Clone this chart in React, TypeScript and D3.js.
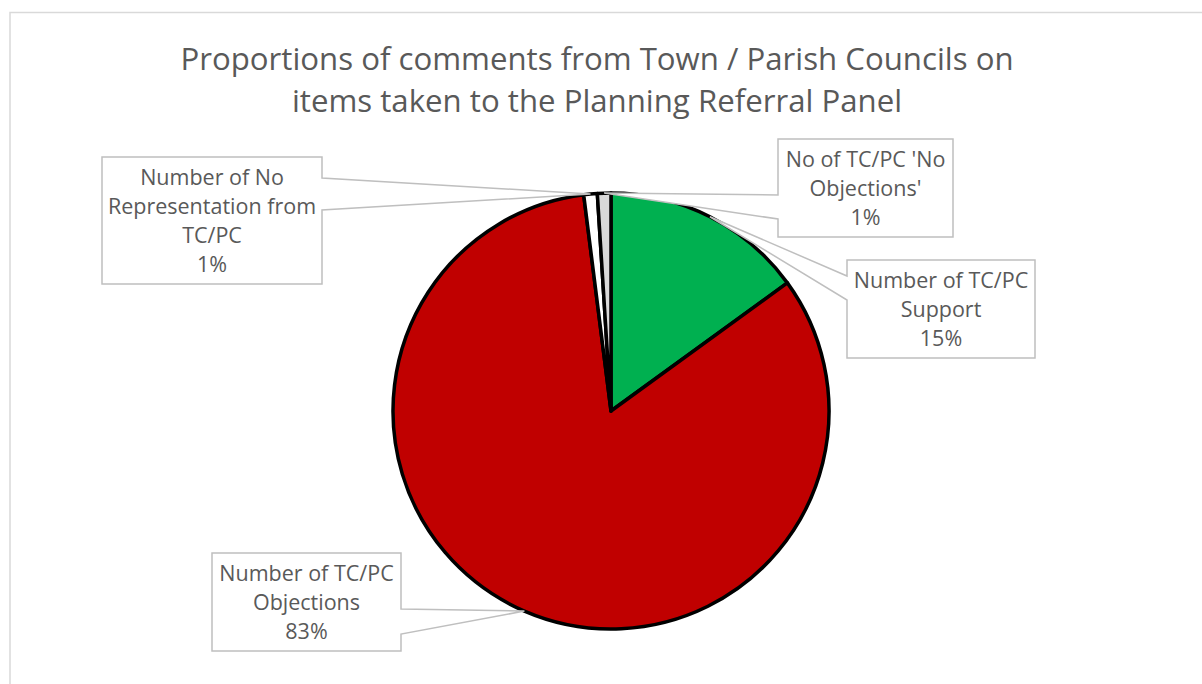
import React, { useEffect, useRef } from 'react';
import * as d3 from 'd3';

// chart data
const titleLines = [
  'Proportions of comments from Town / Parish Councils on',
  'items taken to the Planning Referral Panel',
];
const categories = [
  'Number of TC/PC Support',
  'Number of TC/PC Objections',
  'Number of No Representation from TC/PC',
  "No of TC/PC 'No Objections'",
];
const values = [15, 83, 1, 1];
const labelLines = [
  ['Number of TC/PC', 'Support'],
  ['Number of TC/PC', 'Objections'],
  ['Number of No', 'Representation from', 'TC/PC'],
  ["No of TC/PC 'No", "Objections'"],
];
const sliceColors = ['#00B050', '#C00000', '#FFFFFF', '#D9D9D9'];

// callout boxes (layout only)
interface Callout {
  x: number;
  y: number;
  w: number;
  side: 'left' | 'right';
  wTop: number;
  wBot: number;
}
const callouts: Callout[] = [
  { x: 847, y: 260, w: 188, side: 'left', wTop: 16, wBot: 40 },
  { x: 212, y: 553, w: 189, side: 'right', wTop: 56, wBot: 81 },
  { x: 102, y: 157, w: 220, side: 'right', wTop: 21, wBot: 53 },
  { x: 778, y: 139, w: 175, side: 'left', wTop: 56, wBot: 80 },
];

const W = 1202;
const H = 684;
const FONT = "'Open Sans', 'Noto Sans', sans-serif";
const TEXT = '#595959';

export default function App() {
  const svgRef = useRef<SVGSVGElement>(null);

  useEffect(() => {
    if (!svgRef.current) return;
    const svg = d3.select(svgRef.current);
    svg.selectAll('*').remove();

    // chart area border
    svg.append('rect')
      .attr('x', 10)
      .attr('y', 12.5)
      .attr('width', 1400)
      .attr('height', 900)
      .attr('fill', '#fff')
      .attr('stroke', '#D9D9D9')
      .attr('stroke-width', 1.5);

    // Title
    svg.append('g')
      .selectAll('text')
      .data(titleLines)
      .enter().append('text')
      .attr('x', 597)
      .attr('y', (d, i) => 70 + i * 42)
      .attr('text-anchor', 'middle')
      .attr('font-family', FONT)
      .attr('font-size', '31.2px')
      .attr('fill', TEXT)
      .text(d => d);

    const cx = 611;
    const cy = 411;
    const r = 218;

    const pie = d3.pie<number>().sort(null).value(d => d);
    const arcs = pie(values);
    const arc = d3.arc<d3.PieArcDatum<number>>().innerRadius(0).outerRadius(r);

    const g = svg.append('g').attr('transform', `translate(${cx},${cy})`);
    g.selectAll('path')
      .data(arcs)
      .enter().append('path')
      .attr('d', arc)
      .attr('fill', (d, i) => sliceColors[i])
      .attr('stroke', '#000')
      .attr('stroke-width', 3.5)
      .attr('stroke-linejoin', 'round');

    const total = d3.sum(values);

    // Callouts
    arcs.forEach((a, i) => {
      const c = callouts[i];
      const mid = (a.startAngle + a.endAngle) / 2;
      const tx = cx + r * Math.sin(mid);
      const ty = cy - r * Math.cos(mid);
      const lines = [...labelLines[i], `${Math.round((values[i] / total) * 100)}%`];
      const h = lines.length * 29 + 11;
      const x0 = c.x, x1 = c.x + c.w, y0 = c.y, y1 = c.y + h;
      const pts: [number, number][] = c.side === 'right'
        ? [[x0, y0], [x1, y0], [x1, y0 + c.wTop], [tx, ty], [x1, y0 + c.wBot], [x1, y1], [x0, y1]]
        : [[x0, y0], [x1, y0], [x1, y1], [x0, y1], [x0, y0 + c.wBot], [tx, ty], [x0, y0 + c.wTop]];

      const cg = svg.append('g').attr('class', 'callout').attr('data-category', categories[i]);
      cg.append('path')
        .attr('d', d3.line()(pts) + 'Z')
        .attr('fill', '#fff')
        .attr('stroke', '#BFBFBF')
        .attr('stroke-width', 1.5);

      cg.selectAll('text')
        .data(lines)
        .enter().append('text')
        .attr('x', (x0 + x1) / 2)
        .attr('y', (d, j) => y0 + 28 + j * 29)
        .attr('text-anchor', 'middle')
        .attr('font-family', FONT)
        .attr('font-size', '21.5px')
        .attr('fill', TEXT)
        .text(d => d);
    });
  }, []);

  return (
    <div style={{ position: 'absolute', left: 0, top: 0, width: W, height: H, overflow: 'hidden', background: '#fff' }}>
      <svg ref={svgRef} width={W} height={H} />
    </div>
  );
}
